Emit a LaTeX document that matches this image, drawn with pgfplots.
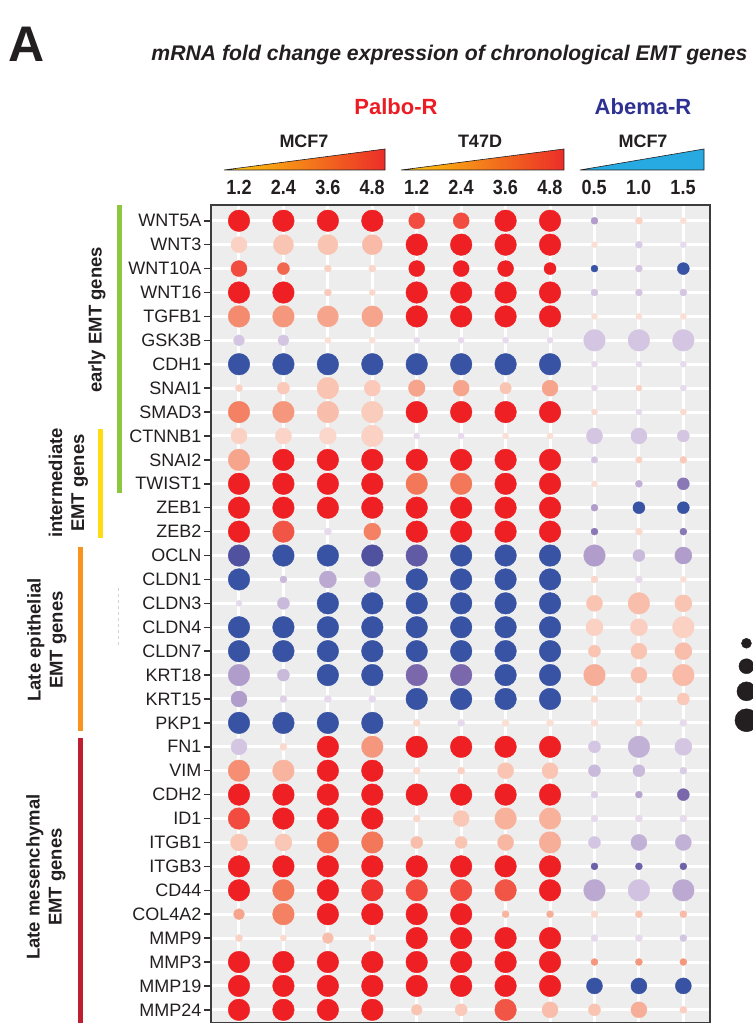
\documentclass[border=0pt]{standalone}
\usepackage{graphicx}
\usepackage{pgfplots}
\usepackage{pgfplotstable}
\pgfplotsset{compat=1.18}
\usepackage{fontspec}
\setmainfont{Liberation Sans}

\definecolor{panelgray}{RGB}{236,237,236}
\definecolor{bordergray}{RGB}{60,60,60}
\definecolor{tickgray}{RGB}{51,51,51}
\definecolor{txt}{RGB}{35,31,32}
\definecolor{palbored}{RGB}{237,28,36}
\definecolor{abemablue}{RGB}{46,49,146}
\definecolor{triA}{RGB}{253,204,12}
\definecolor{triM}{RGB}{246,150,45}
\definecolor{triB}{RGB}{236,45,40}
\definecolor{triC}{RGB}{39,170,225}
\definecolor{earlygreen}{RGB}{141,198,63}
\definecolor{interyellow}{RGB}{255,221,21}
\definecolor{lateorange}{RGB}{247,148,29}
\definecolor{latered}{RGB}{190,30,45}

\pgfplotstableread[row sep=\\]{
x y c r\\
0 33 5 10.8\\ 1 33 5 10.8\\ 2 33 5 10.8\\ 3 33 5 10.8\\ 4 33 4.5 8\\ 5 33 4.5 8\\ 6 33 5 10.8\\ 7 33 5 10.8\\ 8 33 -2 3.5\\ 9 33 1.5 3.5\\ 10 33 1 3\\
0 32 1.5 8\\ 1 32 2 10\\ 2 32 2 10\\ 3 32 2.3 10\\ 4 32 5 10.8\\ 5 32 5 10.8\\ 6 32 5 10.8\\ 7 32 5 10.8\\ 8 32 1 3\\ 9 32 -0.7 3.5\\ 10 32 0 3\\
0 31 4.5 8\\ 1 31 4.2 6\\ 2 31 1.5 3.5\\ 3 31 1.3 3.5\\ 4 31 5 8\\ 5 31 5 8\\ 6 31 5 8\\ 7 31 5 6\\ 8 31 -5 3.5\\ 9 31 -1 3.5\\ 10 31 -5 6\\
0 30 5 10.8\\ 1 30 5 10.8\\ 2 30 1.8 3.5\\ 3 30 1.3 3\\ 4 30 5 10.8\\ 5 30 5 10.8\\ 6 30 5 10.8\\ 7 30 5 10.8\\ 8 30 -1 3.5\\ 9 30 -1 3.5\\ 10 30 -1 3.5\\
0 29 3.6 10.8\\ 1 29 3.3 10.8\\ 2 29 3 10.5\\ 3 29 3 10.5\\ 4 29 5 10.8\\ 5 29 5 10.8\\ 6 29 5 10.8\\ 7 29 5 10.8\\ 8 29 1 3\\ 9 29 1 3\\ 10 29 1 3\\
0 28 -1 5.5\\ 1 28 -1 5.5\\ 2 28 1 3\\ 3 28 1 3\\ 4 28 0 3\\ 5 28 0 3\\ 6 28 0 3\\ 7 28 0 3\\ 8 28 -1 10.8\\ 9 28 -1 10.8\\ 10 28 -1 10.8\\
0 27 -5 10.8\\ 1 27 -5 10.8\\ 2 27 -5 10.8\\ 3 27 -5 10.8\\ 4 27 -5 10.8\\ 5 27 -5 10.8\\ 6 27 -5 10.8\\ 7 27 -5 10.8\\ 8 27 0 3\\ 9 27 0 3\\ 10 27 0 3\\
0 26 1.5 3.5\\ 1 26 1.8 6\\ 2 26 2 10.8\\ 3 26 1.8 8\\ 4 26 3 8.3\\ 5 26 3 8\\ 6 26 2 5.7\\ 7 26 3 8\\ 8 26 0 3\\ 9 26 1.5 3\\ 10 26 0 3\\
0 25 3.8 10.8\\ 1 25 3.3 10.8\\ 2 25 2.2 10.8\\ 3 25 1.7 10.8\\ 4 25 5 10.8\\ 5 25 5 10.8\\ 6 25 5 10.8\\ 7 25 5 10.8\\ 8 25 1.2 3\\ 9 25 0 3\\ 10 25 1.2 3\\
0 24 1.5 8\\ 1 24 1.4 8\\ 2 24 1.3 8.3\\ 3 24 1.5 10.8\\ 4 24 0 3\\ 5 24 0 3\\ 6 24 1 3\\ 7 24 1 3\\ 8 24 -1 8\\ 9 24 -1 8\\ 10 24 -1 6\\
0 23 3 10.8\\ 1 23 5 10.8\\ 2 23 5 10.8\\ 3 23 5 10.8\\ 4 23 5 10.8\\ 5 23 5 10.8\\ 6 23 5 10.8\\ 7 23 5 10.8\\ 8 23 -1 3.3\\ 9 23 1.5 3.3\\ 10 23 1.8 3.5\\
0 22 5 10.8\\ 1 22 5 10.8\\ 2 22 5 10.8\\ 3 22 5 10.8\\ 4 22 4 10.8\\ 5 22 4 10.8\\ 6 22 5 10.8\\ 7 22 5 10.8\\ 8 22 1 3\\ 9 22 -1.5 3.5\\ 10 22 -2.7 6\\
0 21 5 10.8\\ 1 21 5 10.8\\ 2 21 5 10.8\\ 3 21 5 10.8\\ 4 21 5 10.8\\ 5 21 5 10.8\\ 6 21 5 10.8\\ 7 21 5 10.8\\ 8 21 -2 3.5\\ 9 21 -5 6\\ 10 21 -5 6\\
0 20 5 10.8\\ 1 20 4.4 10.8\\ 2 20 0 3.5\\ 3 20 3.8 8.5\\ 4 20 5 10.8\\ 5 20 5 10.8\\ 6 20 5 10.8\\ 7 20 5 10.8\\ 8 20 -2.7 3.5\\ 9 20 1.2 3.5\\ 10 20 -2.7 3.5\\
0 19 -4 10.8\\ 1 19 -5 10.8\\ 2 19 -5 10.8\\ 3 19 -4 10.8\\ 4 19 -3.6 10.8\\ 5 19 -5 10.8\\ 6 19 -5 10.8\\ 7 19 -5 10.8\\ 8 19 -2 10.8\\ 9 19 -1.3 6\\ 10 19 -2 8.5\\
0 18 -5 10.8\\ 1 18 -1.3 3.5\\ 2 18 -1.7 8.5\\ 3 18 -1.7 8\\ 4 18 -5 10.8\\ 5 18 -5 10.8\\ 6 18 -5 10.8\\ 7 18 -5 10.8\\ 8 18 1.3 3.5\\ 9 18 0 3.5\\ 10 18 1 3\\
0 17 0 3\\ 1 17 -1.3 6\\ 2 17 -5 10.8\\ 3 17 -5 10.8\\ 4 17 -5 10.8\\ 5 17 -5 10.8\\ 6 17 -5 10.8\\ 7 17 -5 10.8\\ 8 17 2 8\\ 9 17 2.2 10.8\\ 10 17 2 8.5\\
0 16 -5 10.8\\ 1 16 -5 10.8\\ 2 16 -5 10.8\\ 3 16 -5 10.8\\ 4 16 -5 10.8\\ 5 16 -5 10.8\\ 6 16 -5 10.8\\ 7 16 -5 10.8\\ 8 16 1.5 8.5\\ 9 16 1.6 8.5\\ 10 16 1.5 10.8\\
0 15 -5 10.8\\ 1 15 -5 10.8\\ 2 15 -5 10.8\\ 3 15 -5 10.8\\ 4 15 -5 10.8\\ 5 15 -5 10.8\\ 6 15 -5 10.8\\ 7 15 -5 10.8\\ 8 15 2 6\\ 9 15 2 8\\ 10 15 2.2 8.5\\
0 14 -2 10.8\\ 1 14 -1.3 6\\ 2 14 -5 10.8\\ 3 14 -5 10.8\\ 4 14 -3 10.8\\ 5 14 -3 10.8\\ 6 14 -5 10.8\\ 7 14 -5 10.8\\ 8 14 2.7 10.8\\ 9 14 2.2 8\\ 10 14 2.3 10.8\\
0 13 -2 8\\ 1 13 -0.5 3.5\\ 2 13 0 3.5\\ 3 13 0 3.5\\ 4 13 -5 10.8\\ 5 13 -5 10.8\\ 6 13 -5 10.8\\ 7 13 -5 10.8\\ 8 13 1.2 3.5\\ 9 13 1.3 3.5\\ 10 13 1.8 6\\
0 12 -5 10.8\\ 1 12 -5 10.8\\ 2 12 -5 10.8\\ 3 12 -5 10.8\\ 4 12 1.2 3.5\\ 5 12 0 3.5\\ 6 12 1 3.5\\ 7 12 1 3.5\\ 8 12 1 3.5\\ 9 12 1 3.5\\ 10 12 0 3.5\\
0 11 -1 8\\ 1 11 1.2 3.5\\ 2 11 5 10.8\\ 3 11 3.3 10.8\\ 4 11 5 10.8\\ 5 11 5 10.8\\ 6 11 5 10.8\\ 7 11 5 10.8\\ 8 11 -1 6\\ 9 11 -1.5 10.8\\ 10 11 -1 8.5\\
0 10 3.5 10.8\\ 1 10 2.5 10.8\\ 2 10 5 10.8\\ 3 10 5 10.8\\ 4 10 1.2 3.5\\ 5 10 1.5 3.5\\ 6 10 2 8\\ 7 10 2 8\\ 8 10 -1.3 6\\ 9 10 -1.3 6\\ 10 10 -0.7 3.5\\
0 9 5 10.8\\ 1 9 5 10.8\\ 2 9 5 10.8\\ 3 9 5 10.8\\ 4 9 5 10.8\\ 5 9 5 10.8\\ 6 9 5 10.8\\ 7 9 5 10.8\\ 8 9 -0.5 3.5\\ 9 9 -1.8 3.5\\ 10 9 -3 6\\
0 8 4.5 10.8\\ 1 8 5 10.8\\ 2 8 5 10.8\\ 3 8 5 10.8\\ 4 8 1.3 3.5\\ 5 8 1.9 8\\ 6 8 2.6 10.8\\ 7 8 2.6 10.8\\ 8 8 0 3.5\\ 9 8 0 3.5\\ 10 8 0 3.5\\
0 7 1.9 8.5\\ 1 7 1.9 8.5\\ 2 7 4 10.8\\ 3 7 4 10.8\\ 4 7 2.2 6\\ 5 7 2 6\\ 6 7 2.4 8\\ 7 7 2.7 10.8\\ 8 7 -1 6\\ 9 7 -1.5 8\\ 10 7 -1.5 8\\
0 6 5 10.8\\ 1 6 5 10.8\\ 2 6 5 10.8\\ 3 6 5 10.8\\ 4 6 5 10.8\\ 5 6 5 10.8\\ 6 6 5 10.8\\ 7 6 5 10.8\\ 8 6 -3.3 3.5\\ 9 6 -3.3 3.5\\ 10 6 -3.3 3.5\\
0 5 5 10.8\\ 1 5 4 10.8\\ 2 5 5 10.8\\ 3 5 4.8 10.8\\ 4 5 4.5 10.8\\ 5 5 4.5 10.8\\ 6 5 4.4 10.8\\ 7 5 5 10.8\\ 8 5 -1.7 10.8\\ 9 5 -1.1 10.8\\ 10 5 -1.7 10.8\\
0 4 3 5.5\\ 1 4 3.8 10.8\\ 2 4 5 10.8\\ 3 4 5 10.8\\ 4 4 5 10.8\\ 5 4 5 10.8\\ 6 4 2.5 3.5\\ 7 4 2.7 3.5\\ 8 4 1.2 3.5\\ 9 4 2 3.5\\ 10 4 2.3 3.5\\
0 3 1.5 3.5\\ 1 3 1.2 3\\ 2 3 2.2 5.5\\ 3 3 1.5 3.5\\ 4 3 5 10.8\\ 5 3 5 10.8\\ 6 3 5 10.8\\ 7 3 5 10.8\\ 8 3 0 3.5\\ 9 3 0 3.5\\ 10 3 -1 3.5\\
0 2 5 10.8\\ 1 2 5 10.8\\ 2 2 5 10.8\\ 3 2 5 10.8\\ 4 2 5 10.8\\ 5 2 5 10.8\\ 6 2 5 10.8\\ 7 2 5 10.8\\ 8 2 3.3 3.5\\ 9 2 3.3 3.5\\ 10 2 3.3 3.5\\
0 1 5 10.8\\ 1 1 5 10.8\\ 2 1 5 10.8\\ 3 1 5 10.8\\ 4 1 5 10.8\\ 5 1 5 10.8\\ 6 1 5 10.8\\ 7 1 5 10.8\\ 8 1 -5 8\\ 9 1 -5 8\\ 10 1 -5 8\\
0 0 5 10.8\\ 1 0 5 10.8\\ 2 0 5 10.8\\ 3 0 5 10.8\\ 4 0 2 5.5\\ 5 0 1.8 6\\ 6 0 4.4 10.8\\ 7 0 2.2 8\\ 8 0 2 6\\ 9 0 2.7 8\\ 10 0 1.6 3.5\\
}\dots

\pgfplotstableread[row sep=\\]{
x y r\\
11.42 15.33 5\\
11.42 14.37 7.5\\
11.42 13.32 9.5\\
11.42 12.11 11.5\\
}\sizeleg

\begin{document}
\begin{tikzpicture}
\useasboundingbox (0pt,0pt) rectangle (752pt,1024pt);

% title and panel letter
\node[anchor=base, text=txt, font=\bfseries\fontsize{50}{50}\selectfont] at (26.5pt,962pt) {A};
\node[anchor=base, text=txt, font=\bfseries\itshape\fontsize{21.2}{21.2}\selectfont] at (449.5pt,963pt) {mRNA fold change expression of chronological EMT genes};

% group headers
\node[anchor=base, text=palbored, font=\bfseries\fontsize{22}{22}\selectfont] at (396pt,909pt) {Palbo-R};
\node[anchor=base, text=abemablue, font=\bfseries\fontsize{22}{22}\selectfont] at (643pt,909pt) {Abema-R};
\node[anchor=base, text=txt, font=\bfseries\fontsize{18}{18}\selectfont] at (304pt,876pt) {MCF7};
\node[anchor=base, text=txt, font=\bfseries\fontsize{18}{18}\selectfont] at (480pt,876pt) {T47D};
\node[anchor=base, text=txt, font=\bfseries\fontsize{18}{18}\selectfont] at (643pt,876pt) {MCF7};

% dose triangles
\shade[left color=triA, middle color=triM, right color=triB] (224pt,854pt) -- (385pt,854pt) -- (385pt,875pt) -- cycle;
\draw[txt, line width=0.6pt] (224pt,854pt) -- (385pt,854pt) -- (385pt,875pt) -- cycle;
\shade[left color=triA, middle color=triM, right color=triB] (401pt,854pt) -- (564pt,854pt) -- (564pt,875pt) -- cycle;
\draw[txt, line width=0.6pt] (401pt,854pt) -- (564pt,854pt) -- (564pt,875pt) -- cycle;
\fill[triC] (580pt,854pt) -- (704pt,854pt) -- (704pt,875pt) -- cycle;
\draw[txt, line width=0.6pt] (580pt,854pt) -- (704pt,854pt) -- (704pt,875pt) -- cycle;

% dose numbers
\foreach \xx/\lab in {239/1.2, 283.4/2.4, 327.8/3.6, 372.2/4.8, 416.6/1.2, 461/2.4, 505.4/3.6, 549.8/4.8, 594.2/0.5, 638.6/1.0, 683/1.5}
  \node[anchor=base, text=txt, font=\bfseries\fontsize{20.5}{20.5}\selectfont] at (\xx pt,829pt) {\scalebox{0.88}[1]{\lab}};

% left category bars and labels
\fill[earlygreen] (117pt,531pt) rectangle (122pt,819pt);
\node[rotate=90, text=txt, font=\bfseries\fontsize{18.5}{21.5}\selectfont] at (97pt,704pt) {early EMT genes};
\fill[interyellow] (98pt,486pt) rectangle (103pt,595pt);
\node[rotate=90, text=txt, align=center, font=\bfseries\fontsize{18.5}{22}\selectfont] at (68.5pt,541pt) {intermediate\\EMT genes};
\fill[lateorange] (78pt,293pt) rectangle (83pt,477pt);
\node[rotate=90, text=txt, align=center, font=\bfseries\fontsize{18.5}{22}\selectfont] at (47pt,384pt) {Late epithelial\\EMT genes};
\fill[latered] (78pt,1pt) rectangle (83pt,286pt);
\node[rotate=90, text=txt, align=center, font=\bfseries\fontsize{18.5}{22}\selectfont] at (46pt,147pt) {Late mesenchymal\\EMT genes};
\draw[black!18, dashed, line width=0.8pt] (118pt,436pt) -- (118pt,379pt);

\begin{axis}[
  at={(211pt,1.5pt)}, anchor=south west,
  scale only axis, width=499pt, height=817.5pt,
  xmin=-0.63, xmax=10.6, ymin=-0.53, ymax=33.66,
  clip=false,
  axis background/.style={fill=panelgray},
  axis line style={draw=bordergray, line width=1.5pt},
  xtick={0,...,10}, xticklabels={}, x tick style={draw=none},
  xmajorgrids, ymajorgrids,
  major grid style={draw=white, line width=3pt},
  ytick={0,...,33},
  yticklabels={MMP24,MMP19,MMP3,MMP9,COL4A2,CD44,ITGB3,ITGB1,ID1,CDH2,VIM,FN1,PKP1,KRT15,KRT18,CLDN7,CLDN4,CLDN3,CLDN1,OCLN,ZEB2,ZEB1,TWIST1,SNAI2,CTNNB1,SMAD3,SNAI1,CDH1,GSK3B,TGFB1,WNT16,WNT10A,WNT3,WNT5A},
  ytick pos=left, tick align=outside, major tick length=7pt,
  y tick style={draw=tickgray, line width=1.5pt},
  yticklabel style={text=txt, font=\fontsize{18}{18}\selectfont, inner sep=0pt, xshift=-2.5pt},
  colormap={emt}{rgb255(0cm)=(57,83,164); rgb255(1cm)=(80,82,160); rgb255(2cm)=(122,103,172); rgb255(3cm)=(176,157,203); rgb255(4cm)=(212,198,226); rgb255(5cm)=(230,218,236); rgb255(6cm)=(251,222,212); rgb255(7cm)=(250,196,178); rgb255(8cm)=(246,164,140); rgb255(9cm)=(243,120,90); rgb255(10cm)=(238,32,36)},
  point meta min=-5, point meta max=5,
]
\addplot[scatter, only marks, mark=*, point meta=\thisrow{c},
  scatter/use mapped color={draw=mapped color, fill=mapped color},
  visualization depends on={\thisrow{r}\as\rr},
  scatter/@pre marker code/.append style={/tikz/mark size=\rr}]
  table[x=x, y=y] {\dots};
\addplot[only marks, mark=*, color=txt, point meta=\thisrow{r},
  visualization depends on={\thisrow{r}\as\rs},
  scatter, scatter/use mapped color={draw=txt, fill=txt},
  scatter/@pre marker code/.append style={/tikz/mark size=\rs}]
  table[x=x, y=y] {\sizeleg};
\end{axis}
\end{tikzpicture}
\end{document}
